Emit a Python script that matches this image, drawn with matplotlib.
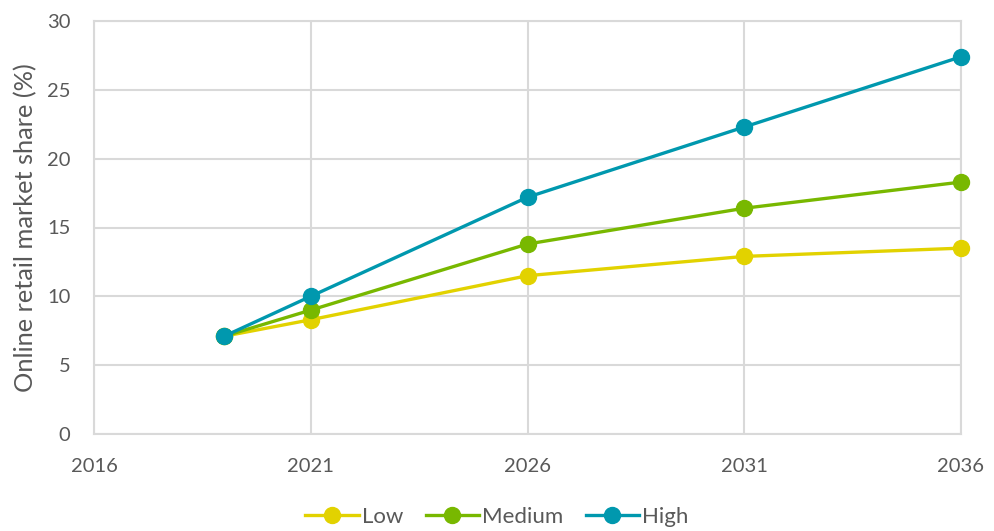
import matplotlib.pyplot as plt

years = [2019, 2021, 2026, 2031, 2036]
low = [7.1, 8.3, 11.5, 12.9, 13.5]
medium = [7.1, 9.0, 13.8, 16.4, 18.3]
high = [7.1, 10.0, 17.2, 22.3, 27.4]

plt.rcParams['font.family'] = ['Lato', 'DejaVu Sans']

fig = plt.figure(figsize=(9.94, 5.31), dpi=100)
ax = fig.add_axes([94/994, 1 - 434/531, (961 - 94)/994, (434 - 21)/531])

grey = '#d9d9d9'
text_c = '#595959'

ax.plot(years, low, color='#e2d200', lw=2.4, marker='o', ms=11.5, label='Low', zorder=3, clip_on=False)
ax.plot(years, medium, color='#78b800', lw=2.4, marker='o', ms=11.5, label='Medium', zorder=3, clip_on=False)
ax.plot(years, high, color='#0098ae', lw=2.4, marker='o', ms=11.5, label='High', zorder=3, clip_on=False)

ax.set_xlim(2016, 2036)
ax.set_ylim(0, 30)
ax.set_xticks([2016, 2021, 2026, 2031, 2036])
ax.set_yticks(range(0, 31, 5))
ax.grid(True, color=grey, lw=1.5)
for s in ax.spines.values():
    s.set_color(grey)
    s.set_linewidth(1.5)
ax.tick_params(length=0, labelsize=14.5, colors=text_c)
ax.tick_params(axis='x', pad=17)
ax.tick_params(axis='y', pad=17)
ax.set_ylabel('Online retail market share (%)', fontsize=18.3, color=text_c, labelpad=7)

fig.legend(*ax.get_legend_handles_labels(), loc='center', bbox_to_anchor=(0.5, 1 - 517/531),
           ncol=3, frameon=False, fontsize=16, labelcolor=text_c, handlelength=2.4,
           handletextpad=0.15, columnspacing=1.0)

fig.savefig('out.png', dpi=100)
